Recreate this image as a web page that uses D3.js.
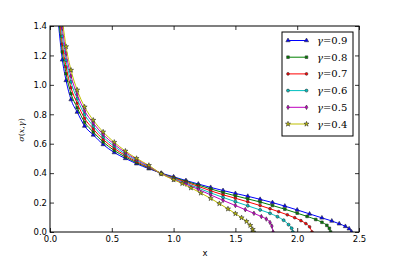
<!DOCTYPE html>
<html lang="en">
<head>
<meta charset="UTF-8">
<title>sigma(x, gamma)</title>
<style>
  body { margin: 0; background: #fff; }
  svg { display: block; }
  .tick text { font-family: "DejaVu Sans", sans-serif; font-size: 8.5px; fill: #000; }
  .tick line { stroke: #000; stroke-width: 0.8; }
</style>
<script src="https://d3js.org/d3.v7.min.js"></script>
</head>
<body>
<div id="chart"></div>
<script>
// values
const gammas = ["0.9", "0.8", "0.7", "0.6", "0.5", "0.4"];

const x09 = [0.068, 0.10, 0.13, 0.17, 0.22, 0.28, 0.35, 0.43, 0.52, 0.61, 0.70, 0.80, 0.90, 1.00, 1.10, 1.20, 1.30, 1.40, 1.50, 1.60, 1.70, 1.80, 1.90, 2.00, 2.10, 2.20, 2.28, 2.34, 2.39, 2.42, 2.44];
const y09 = [1.42, 1.17, 1.03, 0.90, 0.815, 0.72, 0.66, 0.595, 0.54, 0.50, 0.464, 0.43, 0.40, 0.375, 0.35, 0.326, 0.303, 0.282, 0.262, 0.243, 0.222, 0.20, 0.176, 0.15, 0.123, 0.096, 0.075, 0.056, 0.038, 0.022, 0];

const x08 = [0.074, 0.10, 0.13, 0.17, 0.22, 0.28, 0.35, 0.43, 0.52, 0.61, 0.70, 0.80, 0.90, 1.00, 1.10, 1.20, 1.30, 1.40, 1.50, 1.60, 1.70, 1.80, 1.90, 2.00, 2.08, 2.15, 2.20, 2.24, 2.26, 2.27];
const y08 = [1.42, 1.224, 1.076, 0.94, 0.845, 0.746, 0.68, 0.612, 0.554, 0.51, 0.471, 0.435, 0.399, 0.371, 0.345, 0.319, 0.293, 0.268, 0.246, 0.225, 0.204, 0.18, 0.155, 0.128, 0.106, 0.085, 0.066, 0.045, 0.025, 0];

const x07 = [0.081, 0.10, 0.13, 0.17, 0.22, 0.28, 0.35, 0.43, 0.52, 0.61, 0.70, 0.80, 0.90, 1.00, 1.10, 1.20, 1.30, 1.40, 1.50, 1.60, 1.70, 1.78, 1.85, 1.92, 1.98, 2.03, 2.07, 2.10, 2.12];
const y07 = [1.42, 1.277, 1.122, 0.98, 0.875, 0.772, 0.70, 0.629, 0.568, 0.52, 0.478, 0.439, 0.398, 0.367, 0.339, 0.31, 0.28, 0.253, 0.229, 0.205, 0.18, 0.158, 0.138, 0.117, 0.097, 0.077, 0.057, 0.035, 0];

const x06 = [0.088, 0.10, 0.13, 0.17, 0.22, 0.28, 0.35, 0.43, 0.52, 0.61, 0.70, 0.80, 0.90, 1.00, 1.10, 1.20, 1.30, 1.40, 1.50, 1.60, 1.70, 1.78, 1.84, 1.89, 1.93, 1.955, 1.965];
const y06 = [1.42, 1.331, 1.168, 1.02, 0.905, 0.798, 0.72, 0.646, 0.582, 0.53, 0.486, 0.444, 0.397, 0.363, 0.332, 0.299, 0.266, 0.235, 0.206, 0.178, 0.15, 0.127, 0.104, 0.08, 0.05, 0.025, 0];

const x05 = [0.095, 0.10, 0.13, 0.17, 0.22, 0.28, 0.35, 0.43, 0.52, 0.61, 0.70, 0.80, 0.90, 1.00, 1.10, 1.20, 1.30, 1.40, 1.50, 1.58, 1.65, 1.71, 1.75, 1.78, 1.795, 1.805];
const y05 = [1.42, 1.385, 1.214, 1.06, 0.935, 0.824, 0.74, 0.663, 0.596, 0.54, 0.493, 0.448, 0.396, 0.359, 0.325, 0.29, 0.252, 0.215, 0.18, 0.152, 0.127, 0.105, 0.088, 0.065, 0.04, 0];

const x04 = [0.103, 0.13, 0.17, 0.22, 0.28, 0.35, 0.43, 0.52, 0.61, 0.70, 0.80, 0.90, 1.00, 1.07, 1.14, 1.22, 1.30, 1.37, 1.44, 1.50, 1.55, 1.59, 1.62, 1.64, 1.645];
const y04 = [1.42, 1.26, 1.10, 0.965, 0.85, 0.76, 0.68, 0.61, 0.55, 0.50, 0.453, 0.395, 0.355, 0.33, 0.30, 0.265, 0.228, 0.193, 0.157, 0.125, 0.097, 0.072, 0.045, 0.018, 0];

const xTicks = [0, 0.5, 1.0, 1.5, 2.0, 2.5];
const yTicks = [0, 0.2, 0.4, 0.6, 0.8, 1.0, 1.2, 1.4];

const colors = ["#0000ff", "#008000", "#ff0000", "#00bfbf", "#bf00bf", "#bfbf00"];
const shapes = [d3.symbolTriangle, d3.symbolSquare, d3.symbolCircle, d3.symbolCircle, d3.symbolDiamond, d3.symbolStar];
const sizes = [8, 7, 6, 7, 6, 8];

const series = gammas.map((g, i) => {
  const xs = [x09, x08, x07, x06, x05, x04][i];
  const ys = [y09, y08, y07, y06, y05, y04][i];
  return { gamma: g, values: xs.map((x, j) => ({ x: x, y: ys[j] })) };
});

const width = 399, height = 266;
const margin = { top: 26, right: 40, bottom: 34, left: 50 };

const svg = d3.select("#chart").append("svg")
  .attr("width", width)
  .attr("height", height);

const xScale = d3.scaleLinear().domain([0, 2.5]).range([margin.left, width - margin.right]);
const yScale = d3.scaleLinear().domain([0, 1.4]).range([height - margin.bottom, margin.top]);

svg.append("clipPath").attr("id", "plotArea")
  .append("rect")
  .attr("x", margin.left).attr("y", margin.top)
  .attr("width", width - margin.left - margin.right)
  .attr("height", height - margin.top - margin.bottom);

const line = d3.line()
  .x(d => xScale(d.x))
  .y(d => yScale(d.y))
  .curve(d3.curveMonotoneX);

const plot = svg.append("g").attr("clip-path", "url(#plotArea)");

series.forEach((s, i) => {
  plot.append("path")
    .datum(s.values)
    .attr("d", line)
    .attr("fill", "none")
    .attr("stroke", colors[i])
    .attr("stroke-width", 1);

  plot.selectAll(".pt" + i)
    .data(s.values)
    .enter()
    .append("path")
    .attr("class", "pt" + i)
    .attr("transform", d => `translate(${xScale(d.x)},${yScale(d.y)})`)
    .attr("d", d3.symbol().type(shapes[i]).size(sizes[i]))
    .attr("fill", colors[i])
    .attr("stroke", "#333")
    .attr("stroke-width", 0.6);
});

// axes with inward ticks on all four sides
const fmt = d3.format(".1f");
svg.append("g")
  .attr("transform", `translate(0,${height - margin.bottom})`)
  .call(d3.axisBottom(xScale).tickValues(xTicks).tickFormat(fmt).tickSizeInner(-4).tickSizeOuter(0).tickPadding(4))
  .call(g => g.select(".domain").remove());

svg.append("g")
  .attr("transform", `translate(0,${margin.top})`)
  .call(d3.axisTop(xScale).tickValues(xTicks).tickFormat("").tickSizeInner(-4).tickSizeOuter(0))
  .call(g => g.select(".domain").remove());

svg.append("g")
  .attr("transform", `translate(${margin.left},0)`)
  .call(d3.axisLeft(yScale).tickValues(yTicks).tickFormat(fmt).tickSizeInner(-4).tickSizeOuter(0).tickPadding(3))
  .call(g => g.select(".domain").remove());

svg.append("g")
  .attr("transform", `translate(${width - margin.right},0)`)
  .call(d3.axisRight(yScale).tickValues(yTicks).tickFormat("").tickSizeInner(-4).tickSizeOuter(0))
  .call(g => g.select(".domain").remove());

svg.append("rect")
  .attr("x", margin.left).attr("y", margin.top)
  .attr("width", width - margin.left - margin.right)
  .attr("height", height - margin.top - margin.bottom)
  .attr("fill", "none")
  .attr("stroke", "#000")
  .attr("stroke-width", 1);

// axis labels
svg.append("text")
  .attr("x", 205).attr("y", 256)
  .attr("text-anchor", "middle")
  .style("font-family", "DejaVu Sans, sans-serif")
  .style("font-size", "8.5px")
  .text("x");

const yLab = svg.append("text")
  .attr("transform", "translate(24,130) rotate(-90)")
  .attr("text-anchor", "middle")
  .style("font-family", "DejaVu Serif, serif")
  .style("font-size", "8px");
yLab.append("tspan").style("font-style", "italic").text("σ");
yLab.append("tspan").text("(");
yLab.append("tspan").style("font-style", "italic").text("x");
yLab.append("tspan").text(",");
yLab.append("tspan").style("font-style", "italic").text("γ");
yLab.append("tspan").text(")");

// legend
const legend = svg.append("g").attr("transform", "translate(282,32)");
legend.append("rect")
  .attr("width", 71).attr("height", 104)
  .attr("fill", "#fff")
  .attr("stroke", "#000")
  .attr("stroke-width", 1);

const entries = legend.selectAll(".legend-entry")
  .data(series)
  .enter()
  .append("g")
  .attr("class", "legend-entry")
  .attr("transform", (d, i) => `translate(0,${8.5 + i * 16.7})`);

entries.append("line")
  .attr("x1", 6).attr("x2", 24.5)
  .attr("stroke", (d, i) => colors[i])
  .attr("stroke-width", 1);

entries.each(function(d, i) {
  d3.select(this).selectAll("path")
    .data([6, 24.5])
    .enter()
    .append("path")
    .attr("transform", x => `translate(${x},0)`)
    .attr("d", d3.symbol().type(shapes[i]).size(sizes[i]))
    .attr("fill", colors[i])
    .attr("stroke", "#333")
    .attr("stroke-width", 0.6);
});

const labels = entries.append("text")
  .attr("x", 35).attr("y", 3.5)
  .style("font-family", "DejaVu Serif, serif")
  .style("font-size", "10px");
labels.append("tspan").style("font-style", "italic").text("γ");
labels.append("tspan").text(d => "=" + d.gamma);
</script>
</body>
</html>
